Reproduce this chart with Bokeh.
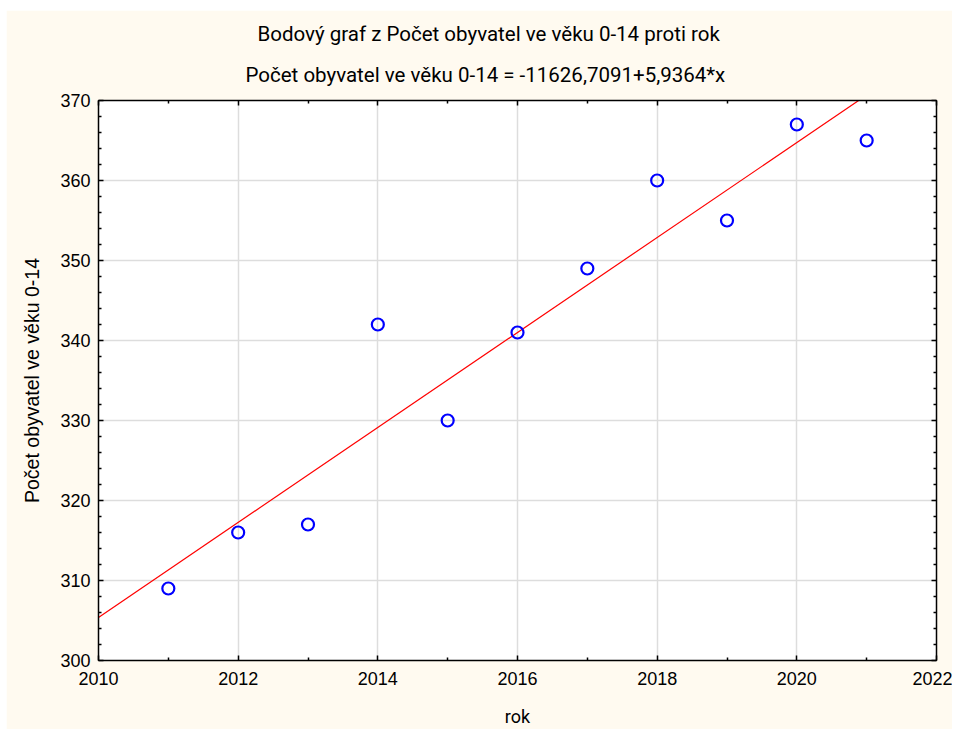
import numpy as np
from bokeh.plotting import figure
from bokeh.layouts import column, row
from bokeh.models import (Range1d, LinearAxis, FixedTicker, Title, CustomJSTickFormatter, Spacer)
from bokeh.embed import file_html
from bokeh.resources import INLINE

# Data
years = [2011, 2012, 2013, 2014, 2015, 2016, 2017, 2018, 2019, 2020, 2021]
population_0_14 = [309, 316, 317, 342, 330, 341, 349, 360, 355, 367, 365]

title_line1 = "Bodový graf z Počet obyvatel ve věku 0-14 proti rok"
title_line2 = "Počet obyvatel ve věku 0-14 = -11626,7091+5,9364*x"
x_label = "rok"
y_label = "Počet obyvatel ve věku 0-14"

x_major = [2010, 2012, 2014, 2016, 2018, 2020, 2022]
x_minor = [2011, 2013, 2015, 2017, 2019, 2021]
y_major = [300, 310, 320, 330, 340, 350, 360, 370]
y_minor = [v for v in range(300, 371, 2) if v % 10 != 0]

X0, X1, Y0, Y1 = 2010, 2022, 300, 370

CREAM = "#FFFAF0"
NARROW = "Roboto"
SANS = "Liberation Sans"

p = figure(width=946, height=719, output_backend="svg", toolbar_location=None,
           x_range=Range1d(X0, X1), y_range=Range1d(Y0, Y1),
           x_axis_location=None, y_axis_location=None,
           min_border_left=92, min_border_right=16, min_border_top=90, min_border_bottom=69)
p.background_fill_color = "white"
p.border_fill_color = CREAM
p.outline_line_color = "black"
p.outline_line_width = 1

def style_axis(ax, labels=True):
    ax.axis_line_color = "black"
    ax.axis_line_width = 1.5
    ax.major_tick_in = 5
    ax.major_tick_out = 0
    ax.minor_tick_in = 3
    ax.minor_tick_out = 0
    ax.major_tick_line_color = "black"
    ax.minor_tick_line_color = "black"
    ax.major_tick_line_width = 1.5
    ax.minor_tick_line_width = 1.5
    ax.major_label_text_font = SANS
    ax.major_label_text_font_size = "18px"
    ax.major_label_text_color = "black"
    if not labels:
        ax.formatter = CustomJSTickFormatter(code="return ''")
        ax.major_label_standoff = 0

xt = FixedTicker(ticks=x_major, minor_ticks=x_minor)
yt = FixedTicker(ticks=y_major, minor_ticks=y_minor)

bottom = LinearAxis(ticker=xt, axis_label=x_label)
style_axis(bottom)
bottom.major_label_standoff = 11
bottom.axis_label_text_font = NARROW
bottom.axis_label_text_font_size = "18px"
bottom.axis_label_text_font_style = "normal"
bottom.axis_label_text_color = "black"
bottom.axis_label_standoff = 18
p.add_layout(bottom, "below")

left = LinearAxis(ticker=yt, axis_label=y_label)
style_axis(left)
left.major_label_standoff = 8
left.axis_label_text_font = SANS
left.axis_label_text_font_size = "19.5px"
left.axis_label_text_font_style = "normal"
left.axis_label_text_color = "black"
left.axis_label_standoff = 14
p.add_layout(left, "left")

top = LinearAxis(ticker=FixedTicker(ticks=x_major, minor_ticks=x_minor))
style_axis(top, labels=False)
p.add_layout(top, "above")

right = LinearAxis(ticker=FixedTicker(ticks=y_major, minor_ticks=y_minor))
style_axis(right, labels=False)
p.add_layout(right, "right")

p.xgrid.ticker = xt
p.ygrid.ticker = yt
for g in (p.xgrid, p.ygrid):
    g.grid_line_color = "#DDDDDD"
    g.grid_line_width = 1.5

t2 = Title(text=title_line2, align="left", text_font=NARROW, text_font_size="20.5px",
           text_font_style="normal", text_color="black", standoff=28, offset=147)
t1 = Title(text=title_line1, align="left", text_font=NARROW, text_font_size="20.5px",
           text_font_style="normal", text_color="black", standoff=2, offset=159)
p.add_layout(t2, "above")
p.add_layout(t1, "above")

# Regression line fitted to the data, drawn from 2010 until it leaves the top
slope, intercept = np.polyfit(years, population_0_14, 1)
x_end = min(X1, (Y1 - intercept) / slope)
p.line([X0, x_end], [intercept + slope * X0, intercept + slope * x_end],
       line_color="#FF0000", line_width=1.2)

p.scatter(years, population_0_14, marker="circle", size=12, fill_color=None,
          line_color="#0000FF", line_width=2.2)

layout = column(Spacer(height=10, width=952),
                row(Spacer(width=6, height=719), p))

open("out.html", "w").write(file_html(layout, INLINE))
